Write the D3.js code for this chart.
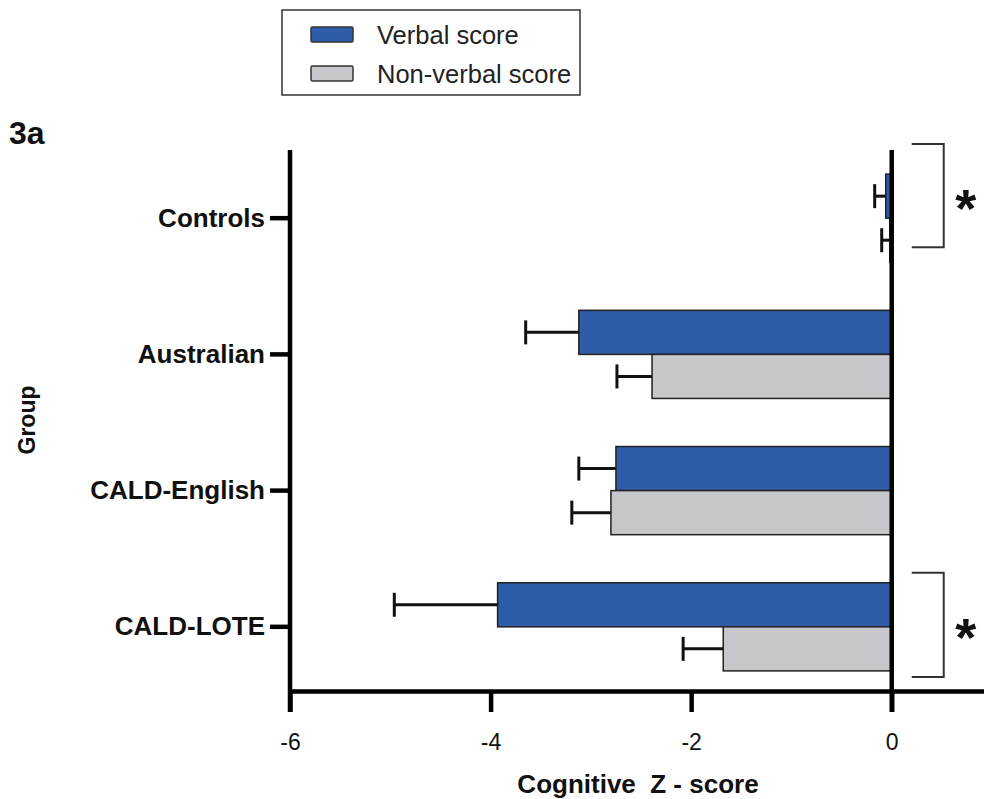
<!DOCTYPE html>
<html>
<head>
<meta charset="utf-8">
<script src="https://cdn.jsdelivr.net/npm/d3@7"></script>
<style>
  html, body { margin: 0; padding: 0; background: #fff; }
  svg { display: block; font-family: "Liberation Sans", Arial, sans-serif; }
</style>
</head>
<body>
<svg id="chart" width="984" height="799"></svg>
<script>
// Cognitive Z-scores by group (mean and SEM)
const groups = ["Controls", "Australian", "CALD-English", "CALD-LOTE"];
const seriesNames = ["Verbal score", "Non-verbal score"];
const verbalMean = [-0.06, -3.12, -2.75, -3.93];
const verbalErr = [0.11, 0.53, 0.37, 1.03];
const nonVerbalMean = [-0.02, -2.39, -2.80, -1.68];
const nonVerbalErr = [0.08, 0.35, 0.39, 0.40];
const xTicks = [-6, -4, -2, 0];
const significant = ["Controls", "CALD-LOTE"];

const colors = { "Verbal score": "#2F5CA8", "Non-verbal score": "#C7C6CB" };

const svg = d3.select("#chart");

const x = d3.scaleLinear().domain([-6, 0.92]).range([290, 984]);
const y = d3.scaleBand().domain(groups).range([150, 695]).paddingInner(0.353).paddingOuter(0.177);
const sub = d3.scaleBand().domain(seriesNames).range([0, y.bandwidth()]);

const rows = [];
groups.forEach((g, i) => {
  rows.push({ group: g, series: "Verbal score", mean: verbalMean[i], err: verbalErr[i] });
  rows.push({ group: g, series: "Non-verbal score", mean: nonVerbalMean[i], err: nonVerbalErr[i] });
});

// bars
svg.append("g").selectAll("rect").data(rows).join("rect")
  .attr("x", d => x(d.mean))
  .attr("y", d => y(d.group) + sub(d.series))
  .attr("width", d => x(0) - x(d.mean))
  .attr("height", sub.bandwidth())
  .attr("fill", d => colors[d.series])
  .attr("stroke", "#222")
  .attr("stroke-width", 1.5);

// error bars (one-sided, away from zero)
const eb = svg.append("g").attr("stroke", "#111").attr("stroke-width", 3);
rows.forEach(d => {
  const cy = y(d.group) + sub(d.series) + sub.bandwidth() / 2;
  const x0 = x(d.mean), x1 = x(d.mean - d.err);
  eb.append("line").attr("x1", x0).attr("x2", x1).attr("y1", cy).attr("y2", cy);
  eb.append("line").attr("x1", x1).attr("x2", x1).attr("y1", cy - 12).attr("y2", cy + 12);
});

// x axis
const xAxis = svg.append("g").attr("transform", "translate(0,691)")
  .call(d3.axisBottom(x).tickValues(xTicks).tickSize(21).tickSizeOuter(0).tickPadding(22).tickFormat(d3.format("d")));
xAxis.select(".domain").attr("stroke-width", 4.5).attr("stroke", "#000");
xAxis.selectAll(".tick line").attr("stroke-width", 4.5).attr("stroke", "#000");
xAxis.selectAll(".tick text").attr("font-size", 23).attr("fill", "#111")
  .attr("font-family", "'Liberation Sans', Arial, sans-serif")
  .text(d => d < 0 ? "-" + Math.abs(d) : d);

// y axis
const yAxis = svg.append("g").attr("transform", "translate(290,0)")
  .call(d3.axisLeft(y).tickSize(20).tickSizeOuter(0).tickPadding(5));
yAxis.select(".domain").remove();
yAxis.selectAll(".tick line").attr("stroke-width", 4.5).attr("stroke", "#000");
yAxis.selectAll(".tick text").attr("font-size", 26).attr("font-weight", "bold").attr("fill", "#111")
  .attr("font-family", "'Liberation Sans', Arial, sans-serif");
svg.append("line").attr("x1", 290).attr("x2", 290).attr("y1", 150).attr("y2", 712)
  .attr("stroke", "#000").attr("stroke-width", 4.5);

// zero line
svg.append("line").attr("x1", x(0)).attr("x2", x(0)).attr("y1", 150).attr("y2", 712)
  .attr("stroke", "#000").attr("stroke-width", 4.5);

// axis titles
svg.append("text").attr("x", 638).attr("y", 793).attr("text-anchor", "middle")
  .attr("font-size", 26).attr("font-weight", "bold").attr("fill", "#111")
  .style("white-space", "pre").text("Cognitive  Z - score");
svg.append("text").attr("transform", "translate(35,420) rotate(-90)").attr("text-anchor", "middle")
  .attr("font-size", 23).attr("font-weight", "bold").attr("fill", "#111").text("Group");

// panel label
svg.append("text").attr("x", 9).attr("y", 144).attr("font-size", 32).attr("font-weight", "bold")
  .attr("fill", "#111").text("3a");

// significance brackets: vertical reach beyond each group's bars (top, bottom)
const bracketReach = { "Controls": [-30, -15], "CALD-LOTE": [-10, 6] };
significant.forEach(g => {
  const top = y(g) + bracketReach[g][0], bot = y(g) + y.bandwidth() + bracketReach[g][1];
  const xl = x(0) + 20, xr = x(0) + 52;
  svg.append("path").attr("d", `M${xl},${top}H${xr}V${bot}H${xl}`)
    .attr("fill", "none").attr("stroke", "#333").attr("stroke-width", 2);
  svg.append("text").attr("x", xr + 22).attr("y", (top + bot) / 2 + 31).attr("text-anchor", "middle")
    .attr("font-size", 54).attr("font-weight", "bold").attr("fill", "#111").text("*");
});

// legend
const lg = svg.append("g");
lg.append("rect").attr("x", 282).attr("y", 10).attr("width", 298).attr("height", 85)
  .attr("fill", "#fff").attr("stroke", "#333").attr("stroke-width", 1.5);
seriesNames.forEach((s, i) => {
  const yy = 27 + i * 39;
  lg.append("rect").attr("x", 311).attr("y", yy).attr("width", 42).attr("height", 15)
    .attr("fill", colors[s]).attr("stroke", "#333").attr("stroke-width", 1.5).attr("rx", 1.5);
  lg.append("text").attr("x", 377).attr("y", yy + 17).attr("font-size", 25.5).attr("fill", "#222").text(s);
});
</script>
</body>
</html>
